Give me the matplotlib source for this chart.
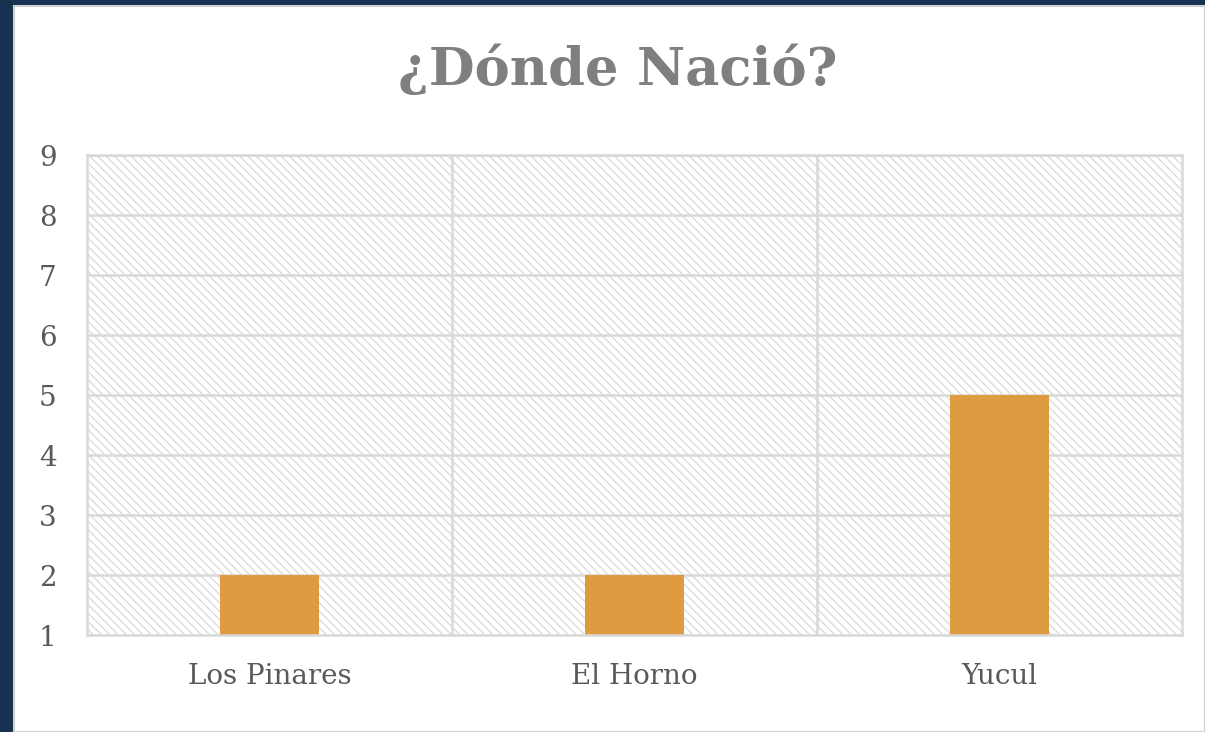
import matplotlib
matplotlib.use("Agg")
import matplotlib.pyplot as plt
from matplotlib.patches import Rectangle

categories = ["Los Pinares", "El Horno", "Yucul"]
values = [2, 2, 5]
y_ticks = [1, 2, 3, 4, 5, 6, 7, 8, 9]
title = "¿Dónde Nació?"

plt.rcParams['hatch.color'] = '#d9d9d9'
plt.rcParams['hatch.linewidth'] = 0.9

fig = plt.figure(figsize=(12.05, 7.32), dpi=100)
fig.patch.set_facecolor('#173150')
# white panel
fig.add_artist(Rectangle((14/1205, 0), 1 - 14/1205, 1 - 6/732, transform=fig.transFigure,
                         facecolor='white', edgecolor='#d0d0d0', linewidth=1.5, zorder=0))

ax = fig.add_axes([87/1205, 1 - 635/732, (1182-87)/1205, (635-155)/732])
ax.set_facecolor('white')
ax.add_patch(Rectangle((0, 0), 1, 1, transform=ax.transAxes, facecolor='white',
                       edgecolor='#d9d9d9', hatch='\\' * 4, linewidth=0, zorder=0))

x = list(range(len(categories)))
base = y_ticks[0]
ax.bar(x, [v - base for v in values], bottom=base, width=0.27, color='#DE9B3F', zorder=3)

ax.set_xlim(-0.5, len(categories) - 0.5)
ax.set_ylim(y_ticks[0], y_ticks[-1])
ax.set_yticks(y_ticks)
ax.set_xticks(x)
ax.set_xticklabels(categories)
for b in [0.5, 1.5]:
    ax.axvline(b, color='#d9d9d9', linewidth=1.8, zorder=2)
for yv in y_ticks:
    ax.axhline(yv, color='#d9d9d9', linewidth=1.8, zorder=2)

for s in ax.spines.values():
    s.set_color('#d9d9d9')
    s.set_linewidth(1.8)
    s.set_zorder(4)

ax.tick_params(axis='both', length=0, labelsize=20, labelcolor='#595959')
ax.tick_params(axis='x', pad=20)
ax.tick_params(axis='y', pad=22)
for lbl in ax.get_xticklabels() + ax.get_yticklabels():
    lbl.set_family('DejaVu Serif')

fig.text(618/1205, 1 - 70/732, title, ha='center', va='center', fontsize=38,
         fontweight='bold', color='#7f7f7f', family='DejaVu Serif')

fig.savefig('out.png', dpi=100, facecolor=fig.get_facecolor())
